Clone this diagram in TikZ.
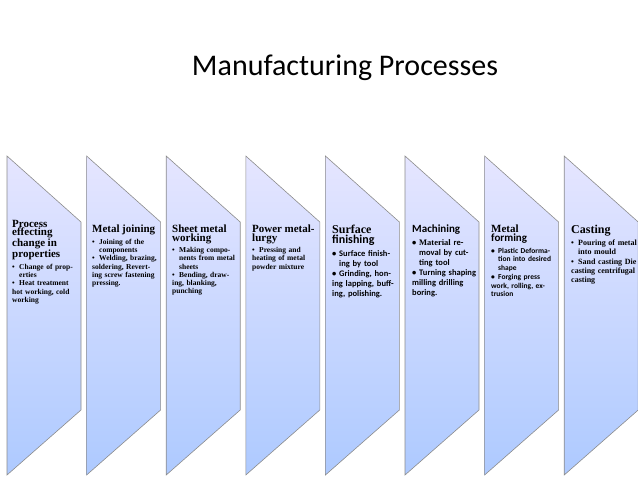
\documentclass[tikz,border=0pt]{standalone}
\usepackage{fontspec}
\setmainfont{Liberation Serif}
\newfontfamily\calfont{Carlito}
\begin{document}
\begin{tikzpicture}[x=1pt,y=-1pt,
  chev/.style={draw=black!45,line width=0.6pt,top color=blue!10!white,bottom color=blue!35!cyan!20!white!85!blue},
  txt/.style={anchor=north west,text width=66pt,align=left,inner sep=0pt,font=\bfseries\fontsize{7.5}{8.3}\selectfont}]
\useasboundingbox (0,0) rectangle (638,479);
\node[font=\calfont\fontsize{30}{32}\selectfont] (title) at (345,68) {Manufacturing Processes};
\foreach \i in {0,...,7}{
  \pgfmathsetmacro\L{7+79.6*\i}
  \pgfmathsetmacro\R{\L+74}
  \path[chev] (\L,156) -- (\R,222) -- (\R,410) -- (\L,475) -- cycle;
}
\newcommand{\bl}{\par\hangindent=7pt\hangafter=1\noindent\makebox[7pt][l]{\textbullet}}
\node[txt] (b1) at (12,220) {{\fontsize{11}{12}\selectfont Process effecting change in properties}\par\vspace{3pt}
\bl Change of properties\bl Heat treatment hot working, cold working};
\node[txt] (b2) at (92,225) {{\fontsize{11}{12}\selectfont Metal joining}\par\vspace{3pt}
\bl Joining of the components\bl Welding, brazing, soldering, Reverting screw fastening pressing.};
\node[txt] (b3) at (172,225) {{\fontsize{11}{12}\selectfont Sheet metal working}\par\vspace{3pt}
\bl Making components from metal sheets\bl Bending, drawing, blanking, punching};
\node[txt] (b4) at (252,225) {{\fontsize{11}{12}\selectfont Power metallurgy}\par\vspace{3pt}
\bl Pressing and heating of metal powder mixture};
\node[txt,font=\calfont\bfseries\fontsize{8.5}{10}\selectfont] (b5) at (332,225) {{\rmfamily\fontsize{12}{14}\selectfont Surface}\par{\fontsize{12}{14}\selectfont finishing}\par\vspace{3pt}
\bl Surface finishing by tool\bl Grinding, honing lapping, buffing, polishing.};
\node[txt,font=\calfont\bfseries\fontsize{8.5}{10}\selectfont] (b6) at (412,225) {{\fontsize{11}{12}\selectfont Machining}\par\vspace{3pt}
\bl {\rmfamily Material} removal by cutting tool\bl Turning shaping milling drilling boring.};
\node[txt,font=\calfont\bfseries\fontsize{7.5}{8.7}\selectfont] (b7) at (491,225) {{\rmfamily\fontsize{11}{12}\selectfont Metal}\par{\fontsize{11}{12}\selectfont forming}\par\vspace{3pt}
\bl Plastic Deformation into desired shape\bl Forging press work, rolling, extrusion};
\node[txt,font=\bfseries\fontsize{8}{9.2}\selectfont] (b8) at (571,225) {{\fontsize{12}{14}\selectfont Casting}\par\vspace{3pt}
\bl Pouring of metal into mould\bl Sand casting Die casting centrifugal casting};
\end{tikzpicture}
\end{document}
